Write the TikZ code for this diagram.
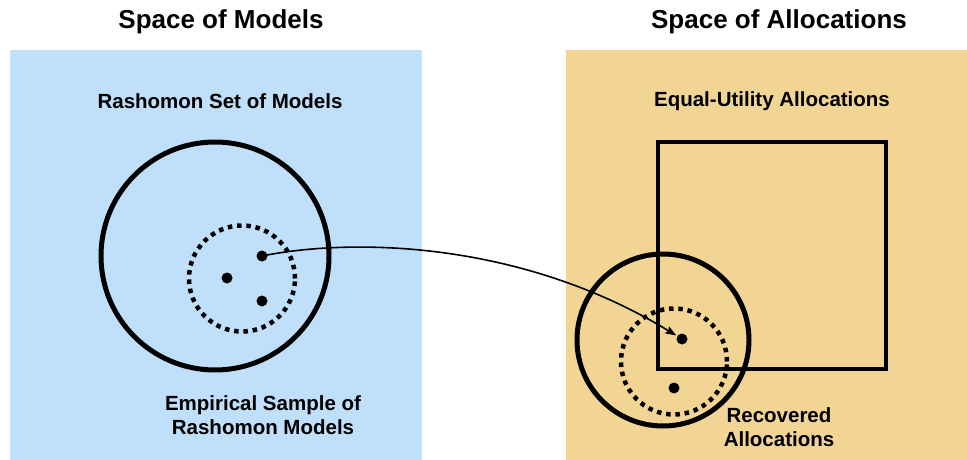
\documentclass[tikz,border=0pt]{standalone}
\usepackage{fontspec}
\setmainfont{Liberation Sans}
\usetikzlibrary{arrows.meta}
\definecolor{panelblue}{HTML}{BFDFFB}
\definecolor{paneltan}{HTML}{F2D495}
\tikzset{
  title/.style={font=\fontsize{26}{30}\selectfont\bfseries, inner sep=0pt},
  label/.style={font=\fontsize{20.5}{24}\selectfont\bfseries, inner sep=0pt, align=center},
  bigring/.style={circle, draw, line width=5pt, inner sep=0pt},
  dotring/.style={circle, draw, line width=4.5pt, inner sep=0pt, dash pattern=on 4.5pt off 4.8pt},
  pt/.style={circle, fill, inner sep=0pt, minimum size=11pt},
  sqbox/.style={draw, line width=4.5pt, inner sep=0pt},
}
\begin{document}
\begin{tikzpicture}[x=1pt,y=-1pt]
\useasboundingbox (0,0) rectangle (967,460);
% panels
\fill[panelblue] (10,50) rectangle (422,460);
\fill[paneltan] (566,50) rectangle (967,460);
% titles
\node[title] (t1) at (221,22) {Space of Models};
\node[title] (t2) at (779,22) {Space of Allocations};
\node[label] (l1) at (220,101) {Rashomon Set of Models};
\node[label] (l2) at (772,101) {Equal-Utility Allocations};
\node[label] (l3) at (263,415) {Empirical Sample of\\Rashomon Models};
\node[label] (l4) at (779,427) {Recovered\\Allocations};
% left
\node[bigring, minimum size=228pt] (c1) at (215,256) {};
\node[dotring, minimum size=106pt] (c2) at (242,278.5) {};
\node[pt] (d1) at (262,256) {};
\node[pt] (d2) at (227,278) {};
\node[pt] (d3) at (262,301) {};
% right
\node[sqbox, minimum width=228pt, minimum height=227pt] (sq) at (772,255.5) {};
\node[bigring, minimum size=172pt] (c3) at (663,340) {};
\node[dotring, minimum size=106pt] (c4) at (674,361.5) {};
\node[pt] (d4) at (682,339) {};
\node[pt] (d5) at (674,388) {};
% arrow
\draw[line width=1.6pt, -{Stealth[length=11pt,width=8pt,inset=2pt]}, shorten >=1pt]
  (d1.center) .. controls (350,238) and (520,240) .. (d4);
\end{tikzpicture}
\end{document}
